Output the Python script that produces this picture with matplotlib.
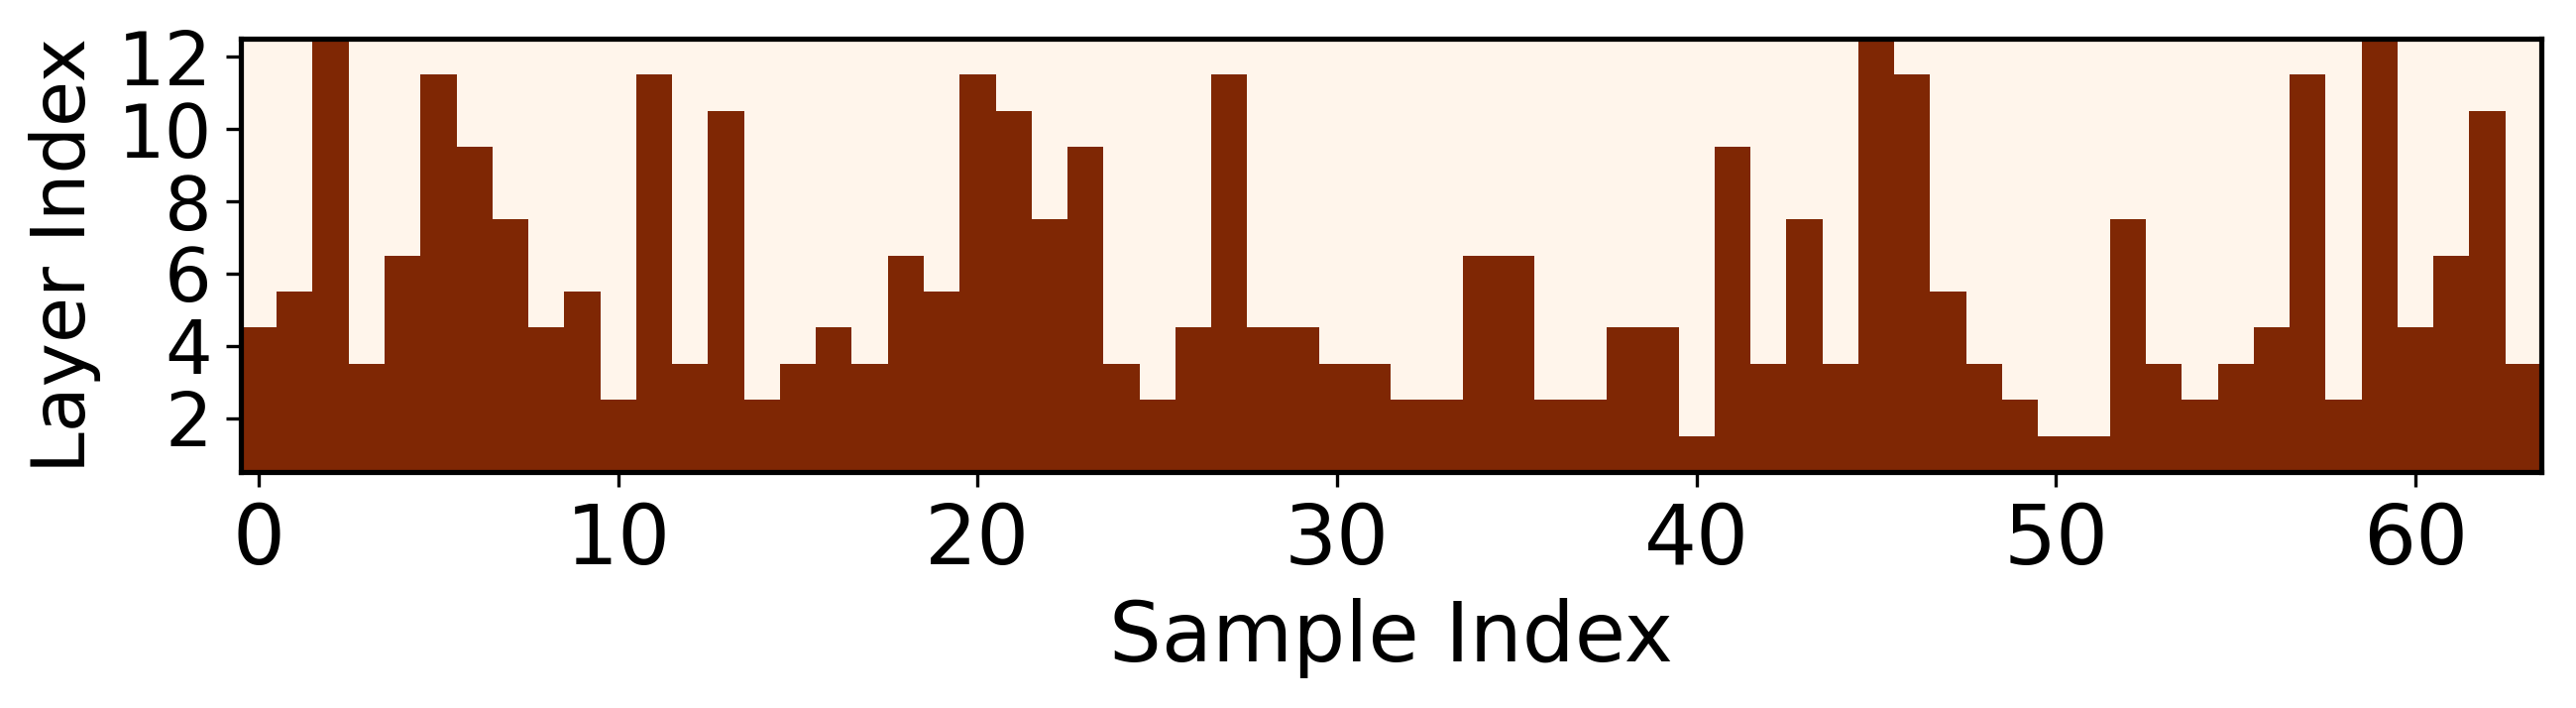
import numpy as np
import matplotlib
matplotlib.use("Agg")
import matplotlib.pyplot as plt

# Exit layer per sample (layers 1..exit are active)
exit_layers = [4, 5, 12, 3, 6, 11, 9, 7, 4, 5, 2, 11, 3, 10, 2, 3,
               4, 3, 6, 5, 11, 10, 7, 9, 3, 2, 4, 11, 4, 4, 3, 3,
               2, 2, 6, 6, 2, 2, 4, 4, 1, 9, 3, 7, 3, 12, 11, 5,
               3, 2, 1, 1, 7, 3, 2, 3, 4, 11, 2, 12, 4, 6, 10, 3]
n_layers = 12
x_ticks = [0, 10, 20, 30, 40, 50, 60]
y_ticks = [2, 4, 6, 8, 10, 12]

n_samples = len(exit_layers)
layers = np.arange(1, n_layers + 1)
mat = (layers[:, None] <= np.array(exit_layers)[None, :]).astype(float)

fig = plt.figure(figsize=(2599 / 300, 714 / 300), dpi=300)
ax = fig.add_axes([0.0935, 0.333, 0.893, 0.612])
ax.imshow(mat, cmap="Oranges", origin="lower", aspect="auto",
          interpolation="nearest", vmin=0, vmax=1,
          extent=[-0.5, n_samples - 0.5, 0.5, n_layers + 0.5])
ax.set_xticks(x_ticks)
ax.set_yticks(y_ticks)
ax.tick_params(axis="x", labelsize=20)
ax.tick_params(axis="y", labelsize=18)
ax.set_xlabel("Sample Index", fontsize=20)
ax.set_ylabel("Layer Index", fontsize=18)
for s in ax.spines.values():
    s.set_linewidth(1.25)

fig.savefig("out.png", dpi=300)
